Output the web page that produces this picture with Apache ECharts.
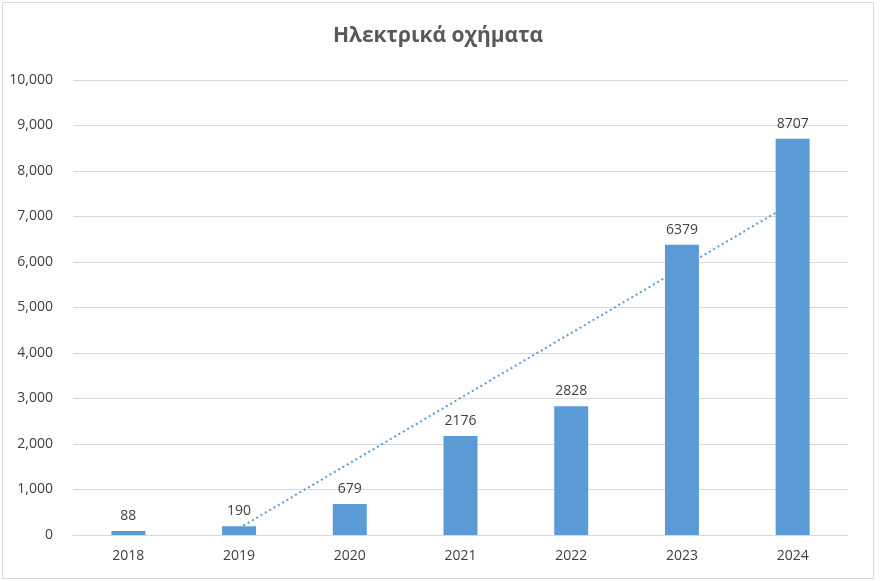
<!DOCTYPE html>
<html>
<head>
<meta charset="utf-8">
<script src="https://cdn.jsdelivr.net/npm/echarts@6/dist/echarts.min.js"></script>
<style>
  html, body { margin: 0; padding: 0; background: #fff; }
  #chart { width: 870px; height: 575px; border: 1px solid #d9d9d9; margin: 2px 0 0 2px; }
</style>
</head>
<body>
<div id="chart"></div>
<script>
// Chart data
const years = ['2018', '2019', '2020', '2021', '2022', '2023', '2024'];
const vehicles = [88, 190, 679, 2176, 2828, 6379, 8707];
// Trendline endpoints
const trend = [null, 150, null, null, null, null, 7300];

const chart = echarts.init(document.getElementById('chart'));

chart.setOption({
    title: {
        text: 'Ηλεκτρικά οχήματα',
        left: 'center',
        top: 18,
        textStyle: { fontFamily: 'Open Sans', fontSize: 21, fontWeight: 'bold', color: '#595959' }
    },
    grid: { left: 70, right: 25, top: 77, bottom: 43 },
    xAxis: {
        type: 'category',
        data: years,
        axisLine: { lineStyle: { color: '#d9d9d9' } },
        axisTick: { show: false },
        axisLabel: { color: '#404040', fontSize: 14, fontFamily: 'Open Sans', margin: 14 }
    },
    yAxis: {
        type: 'value',
        min: 0,
        max: 10000,
        interval: 1000,
        axisLine: { show: false },
        axisTick: { show: false },
        axisLabel: { color: '#404040', fontSize: 14, fontFamily: 'Open Sans', margin: 20 },
        splitLine: { lineStyle: { color: '#d9d9d9' } }
    },
    series: [
        {
            type: 'bar',
            data: vehicles,
            barWidth: 34,
            itemStyle: { color: '#5b9bd5' },
            label: { show: true, position: 'top', distance: 8, color: '#404040', fontSize: 14, fontFamily: 'Open Sans' }
        },
        {
            type: 'line',
            data: trend,
            connectNulls: true,
            symbol: 'none',
            silent: true,
            lineStyle: { color: '#5b9bd5', width: 2, type: [2, 3] },
            z: 3
        }
    ]
});
</script>
</body>
</html>
